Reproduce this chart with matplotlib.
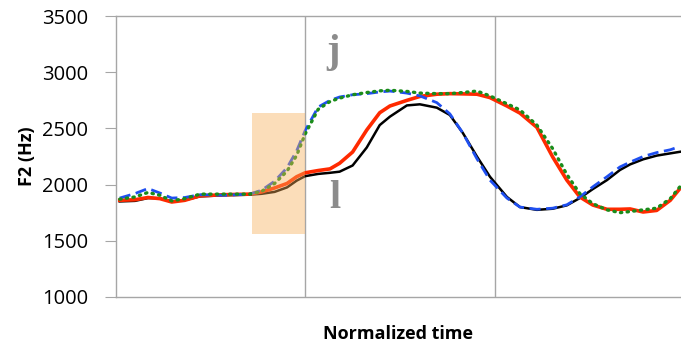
import matplotlib
matplotlib.use("Agg")
import matplotlib.pyplot as plt
from matplotlib.patches import Rectangle

# normalized time positions (0 = left axis, 1 = right edge)
time = [0.007, 0.034, 0.057, 0.078, 0.099, 0.122, 0.149, 0.193, 0.237, 0.258,
        0.281, 0.303, 0.320, 0.335, 0.358, 0.379, 0.396, 0.419, 0.444, 0.467,
        0.485, 0.515, 0.538, 0.568, 0.591, 0.614, 0.639, 0.662, 0.692, 0.715,
        0.745, 0.773, 0.798, 0.821, 0.844, 0.869, 0.892, 0.910, 0.933, 0.957,
        0.981, 0.998]

# F2 tracks in Hz
f2_black = [1850, 1855, 1880, 1878, 1850, 1862, 1895, 1905, 1910, 1918,
            1935, 1975, 2035, 2075, 2095, 2105, 2115, 2170, 2330, 2530,
            2605, 2705, 2715, 2685, 2620, 2460, 2250, 2070, 1890, 1800,
            1775, 1785, 1815, 1880, 1960, 2040, 2130, 2180, 2225, 2258,
            2278, 2292]
f2_red = [1860, 1865, 1885, 1875, 1845, 1860, 1900, 1910, 1915, 1935,
          1970, 2010, 2070, 2105, 2125, 2140, 2190, 2290, 2486, 2640,
          2700, 2750, 2785, 2805, 2810, 2808, 2805, 2775, 2700, 2637,
          2510, 2246, 2040, 1890, 1818, 1780, 1780, 1783, 1756, 1770,
          1860, 1964]
f2_blue = [1880, 1920, 1965, 1925, 1880, 1885, 1910, 1905, 1915, 1950,
           2030, 2150, 2300, 2480, 2690, 2750, 2780, 2800, 2810, 2825,
           2833, 2815, 2790, 2730, 2630, 2460, 2230, 2040, 1880, 1800,
           1780, 1790, 1820, 1890, 1980, 2070, 2157, 2200, 2250, 2285,
           2310, 2340]
f2_green = [1870, 1890, 1930, 1905, 1855, 1875, 1915, 1915, 1915, 1940,
            2010, 2120, 2260, 2450, 2670, 2740, 2770, 2800, 2820, 2835,
            2840, 2830, 2815, 2810, 2810, 2820, 2833, 2790, 2720, 2665,
            2530, 2320, 2090, 1920, 1830, 1775, 1750, 1760, 1775, 1790,
            1875, 1980]

yticks = [1000, 1500, 2000, 2500, 3000, 3500]
boundaries = [0.335, 0.671]
box_t = [0.241, 0.335]
box_hz = [1560, 2637]

fig = plt.figure(figsize=(6.81, 3.44), dpi=100)
ax = fig.add_axes([0.170, 0.137, 0.830, 0.816])

for b in boundaries:
    ax.axvline(b, color="#a6a6a6", lw=1, zorder=1)

ax.plot(time, f2_black, color="black", lw=1.8, zorder=3)
ax.plot(time, f2_red, color="#ff2a00", lw=2.6, zorder=4)
ax.plot(time, f2_blue, color="#1f4ff0", lw=2.0, ls=(0, (4, 2)), zorder=5)
ax.plot(time, f2_green, color="#1a8c1a", lw=2.4, ls=(0, (0.4, 1.6)),
        dash_capstyle="round", zorder=6)

# shaded transition window, see-through like the original
ax.add_patch(Rectangle((box_t[0], box_hz[0]), box_t[1] - box_t[0], box_hz[1] - box_hz[0],
                       facecolor="#f7ae5a", alpha=0.42, edgecolor="none", zorder=7))

ax.text(0.385, 3180, "j", family="Liberation Serif", weight="bold", fontsize=29,
        color="#8c8c8c", ha="center", va="center")
ax.text(0.387, 1880, "l", family="Liberation Serif", weight="bold", fontsize=29,
        color="#8c8c8c", ha="center", va="center")

ax.set_xlim(0, 1)
ax.set_ylim(1000, 3500)
ax.set_yticks(yticks)
ax.set_xticks([])
ax.tick_params(axis="y", length=8, color="#a6a6a6", pad=12, labelsize=14.5)
for lab in ax.get_yticklabels():
    lab.set_family("Open Sans")

ax.spines["right"].set_visible(False)
for side in ["left", "bottom", "top"]:
    ax.spines[side].set_color("#a6a6a6")
    ax.spines[side].set_linewidth(1)

ax.set_ylabel("F2 (Hz)", family="Open Sans", weight="bold", fontsize=13, labelpad=4)
ax.set_xlabel("Normalized time", family="Open Sans", weight="bold", fontsize=13, labelpad=20)

fig.savefig("out.png", dpi=100)
